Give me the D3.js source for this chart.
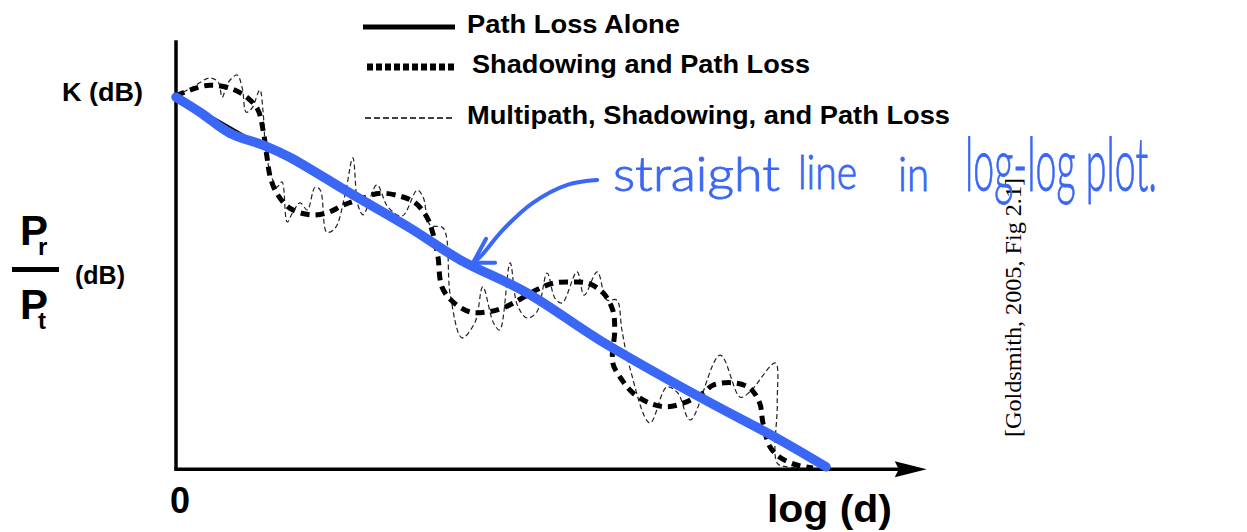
<!DOCTYPE html>
<html>
<head>
<meta charset="utf-8">
<script src="https://cdn.jsdelivr.net/npm/d3@7"></script>
<style>
  html, body { margin: 0; padding: 0; background: #fff; }
  svg { display: block; }
</style>
</head>
<body>
<svg id="chart" width="1247" height="532"></svg>
<script>
// ---------------- DATA (log d in 0..100 units, Pr/Pt in dB relative to K) ----------------
const pathLossX = [0, 100];
const pathLossY = [0, -62];

const shadowX = [0,2.2,5.2,8.3,10.9,12.6,13.4,14,14.5,15.5,17.5,20.6,23.2,25.7,28.8,31.4,34.5,36.8,38.6,39.5,40.3,40.9,42.6,45.2,47.8,50.6,55.5,58,60.9,63.4,65.7,67.2,67.5,67.2,68.6,70.3,72.9,75.5,78,81.1,82.6,85.7,88.3,89.8,90.3,91.4,92.9,95.5,98];
const shadowY = [0,1,1.8,1.3,-0.2,-2.3,-5.7,-10.2,-13.5,-16.2,-18.7,-19.8,-19.5,-18.2,-17,-16.2,-16.7,-17.8,-20.2,-22.8,-26.8,-31.8,-34.3,-36,-36,-35.2,-32.3,-31.2,-31,-31.2,-32.8,-35.7,-39,-44.5,-47.3,-49.5,-51.2,-51.8,-51.2,-49.5,-48.2,-47.8,-48.7,-51.2,-54.5,-58.5,-60.2,-61.5,-62];

const multiX = [0,2.6,5.2,6.5,7.1,8,9.4,10.2,10.8,11.7,12.9,13.4,13.8,14.5,15.5,16.3,17.1,18,19.1,20.2,21.4,22.2,23.2,24.5,26,27.2,28,28.8,30.9,32.6,34.8,37.1,38,39.1,41.1,42.2,44,46,47.2,48.8,49.8,51.4,52.5,54,55.5,57.1,58.3,59.4,61.7,62.8,64.8,66.3,67.8,68.6,69.8,72.9,75.5,77.2,79.1,83.7,86.8,88.3,92.2,92.5,92.5,94,96];
const multiY = [0,1.5,3,2.3,-0.2,2.2,3.5,1.3,-2.7,-2,1,-2.7,-9,-12.7,-15.2,-14.3,-21,-19.3,-17.8,-19,-15.2,-15.7,-22.7,-22,-16.5,-10.3,-18.2,-19.8,-14.8,-18.5,-20,-15.7,-16.8,-21.5,-22,-33.2,-40.3,-37.7,-31.8,-37.7,-39,-27.8,-34.8,-37,-36,-29.5,-33.7,-34.5,-29.3,-33.2,-29.3,-34,-34,-39,-45.2,-54.5,-48.5,-49.5,-54,-43.2,-50.2,-49.3,-44.5,-51.2,-61.2,-61.8,-62];

// hand-drawn blue highlight over the path-loss line
const highlightX = [0,3.7,8.3,13.7,17.5,26.8,36,43.7,54,65.2,80.6,92.9,100];
const highlightY = [-0.2,-2.7,-6.2,-8.3,-10.2,-16.2,-22,-27.3,-32.8,-40.7,-50.2,-57.3,-61.8];

// hand-drawn arrow pointing at the line
const arrowX = [64.8,60.2,54.9,50.3,46.8,45.7];
const arrowY = [-14,-14.8,-17.8,-22.3,-26.8,-27.8];
const barbX = [47.7,45.7,49.1];
const barbY = [-23.8,-27.8,-27.8];

const legendLabels = ["Path Loss Alone", "Shadowing and Path Loss", "Multipath, Shadowing, and Path Loss"];

// ---------------- SETUP ----------------
const svg = d3.select("#chart");
const x = d3.scaleLinear().domain([0, 100]).range([176, 826]);
const y = d3.scaleLinear().domain([-62, 0]).range([468, 96]);
const BLUE = "#3a67f6";
const zip = (xs, ys) => xs.map((v, i) => [v, ys[i]]);

const smooth = d3.line().x(d => x(d[0])).y(d => y(d[1])).curve(d3.curveCatmullRom.alpha(0.5));
const straight = d3.line().x(d => x(d[0])).y(d => y(d[1]));

// ---------------- AXES ----------------
const yTop = 9.3, xEnd = 111.5, xTip = 115.5;
svg.append("line").attr("x1", x(0)).attr("x2", x(0)).attr("y1", y(yTop)).attr("y2", y(-62) + 1.5)
  .attr("stroke", "#000").attr("stroke-width", 3.5);
svg.append("line").attr("x1", x(0) - 1.7).attr("x2", x(xEnd)).attr("y1", y(-62.2)).attr("y2", y(-62.2))
  .attr("stroke", "#000").attr("stroke-width", 3.5);
svg.append("path")
  .attr("d", `M${x(xTip)},${y(-62.2)} L${x(xEnd) - 6},${y(-62.2) - 8} L${x(xEnd) - 2},${y(-62.2)} L${x(xEnd) - 6},${y(-62.2) + 8} Z`)
  .attr("fill", "#000");

// ---------------- SERIES ----------------
svg.append("path").datum(zip(multiX, multiY)).attr("d", smooth)
  .attr("fill", "none").attr("stroke", "#222").attr("stroke-width", 1.2).attr("stroke-dasharray", "5,3");

svg.append("path").datum(zip(shadowX, shadowY)).attr("d", smooth)
  .attr("fill", "none").attr("stroke", "#000").attr("stroke-width", 5).attr("stroke-dasharray", "9,6");

svg.append("path").datum(zip(pathLossX, pathLossY)).attr("d", straight)
  .attr("fill", "none").attr("stroke", "#000").attr("stroke-width", 2);

svg.append("path").datum(zip(highlightX, highlightY)).attr("d", smooth)
  .attr("fill", "none").attr("stroke", BLUE).attr("stroke-width", 9.5)
  .attr("stroke-linecap", "round").attr("stroke-linejoin", "round");

// ---------------- LEGEND ----------------
const legendY = [27, 67, 118];
const legendStyles = [
  { w: 5, dash: null, x1: 363, x2: 455 },
  { w: 7, dash: "6,3", x1: 367, x2: 455 },
  { w: 1.3, dash: "6,3", x1: 365, x2: 452 }
];
const legendTextX = [467, 472, 467];
const legendTextLen = [213, 338, 483];
legendLabels.forEach((lab, i) => {
  const s = legendStyles[i];
  const ln = svg.append("line").attr("x1", s.x1).attr("x2", s.x2)
    .attr("y1", legendY[i]).attr("y2", legendY[i])
    .attr("stroke", "#000").attr("stroke-width", s.w);
  if (s.dash) ln.attr("stroke-dasharray", s.dash);
  svg.append("text").attr("x", legendTextX[i]).attr("y", legendY[i] + 6)
    .attr("font-family", "Liberation Sans, Arial, sans-serif").attr("font-weight", "bold")
    .attr("font-size", 25).attr("fill", "#000")
    .attr("textLength", legendTextLen[i]).attr("lengthAdjust", "spacingAndGlyphs").text(lab);
});

// ---------------- AXIS LABELS ----------------
const bold = "Liberation Sans, Arial, sans-serif";
svg.append("text").attr("x", 62).attr("y", 101).attr("font-family", bold).attr("font-weight", "bold")
  .attr("font-size", 26).attr("textLength", 81).attr("lengthAdjust", "spacingAndGlyphs").text("K (dB)");
svg.append("text").attr("x", 170).attr("y", 513).attr("font-family", bold).attr("font-weight", "bold")
  .attr("font-size", 36).text("0");
svg.append("text").attr("x", 767).attr("y", 522).attr("font-family", bold).attr("font-weight", "bold")
  .attr("font-size", 39).attr("textLength", 125).attr("lengthAdjust", "spacingAndGlyphs").text("log (d)");

// fraction Pr / Pt (dB)
const frac = svg.append("g").attr("font-family", bold).attr("font-weight", "bold").attr("fill", "#000");
const t1 = frac.append("text").attr("x", 20).attr("y", 245).attr("font-size", 42);
t1.append("tspan").text("P");
t1.append("tspan").attr("font-size", 24).attr("dx", -10).attr("dy", 10).text("r");
frac.append("rect").attr("x", 12).attr("y", 267).attr("width", 47).attr("height", 5);
const t2 = frac.append("text").attr("x", 20).attr("y", 319).attr("font-size", 42);
t2.append("tspan").text("P");
t2.append("tspan").attr("font-size", 24).attr("dx", -10).attr("dy", 10).text("t");
frac.append("text").attr("x", 75).attr("y", 284).attr("font-size", 25).text("(dB)");

// citation (rotated)
svg.append("text").attr("transform", "translate(1021,437) rotate(-90)")
  .attr("font-family", "Liberation Serif, Times New Roman, serif").attr("font-size", 24)
  .attr("textLength", 259).attr("lengthAdjust", "spacingAndGlyphs")
  .attr("fill", "#000").text("[Goldsmith, 2005, Fig 2.1]");

// ---------------- HANDWRITTEN ANNOTATION ----------------
svg.append("path").datum(zip(arrowX, arrowY)).attr("d", smooth)
  .attr("fill", "none").attr("stroke", BLUE).attr("stroke-width", 4).attr("stroke-linecap", "round");
svg.append("path").datum(zip(barbX, barbY)).attr("d", straight)
  .attr("fill", "none").attr("stroke", BLUE).attr("stroke-width", 4)
  .attr("stroke-linecap", "round").attr("stroke-linejoin", "round");

const hand = svg.append("g").attr("font-family", "Lato, 'Open Sans', sans-serif").attr("font-weight", 300)
  .attr("fill", BLUE).attr("stroke", BLUE).attr("stroke-width", 0.9).attr("stroke-linejoin", "round");
[["straight", 613, 191, 48, 167], ["line", 798, 189, 48, 59], ["in", 898, 191, 48, 31], ["log-log plot.", 965, 191, 74, 192]]
  .forEach(([w, px, py, fs, len]) => {
    hand.append("text").attr("x", px).attr("y", py).attr("font-size", fs)
      .attr("textLength", len).attr("lengthAdjust", "spacingAndGlyphs").text(w);
  });
</script>
</body>
</html>
